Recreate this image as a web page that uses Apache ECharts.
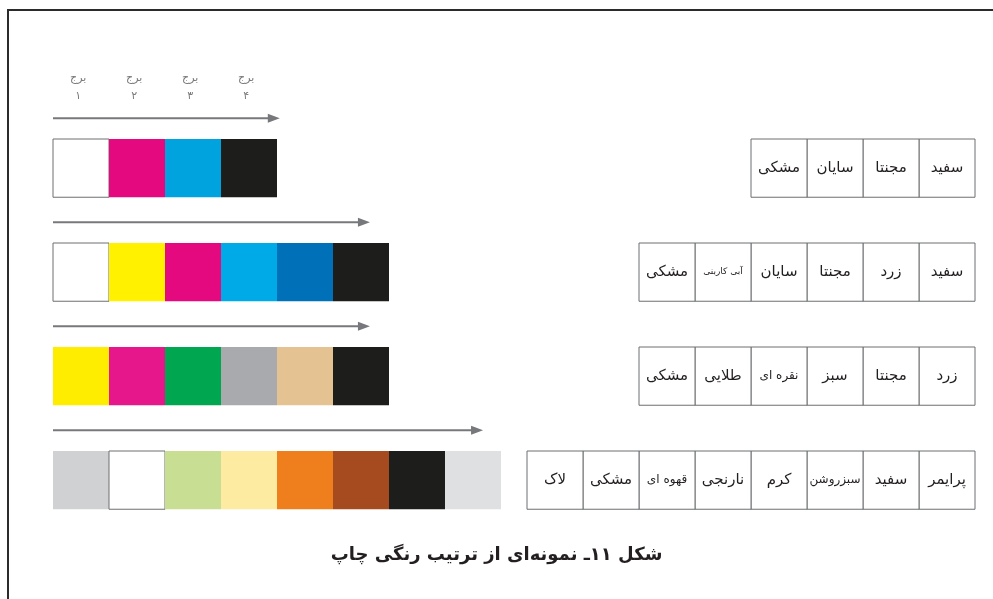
<!DOCTYPE html>
<html>
<head>
<meta charset="utf-8">
<script src="https://cdn.jsdelivr.net/npm/echarts@6/dist/echarts.min.js"></script>
<style>
  html, body { margin: 0; padding: 0; background: #fff; }
  #chart { width: 993px; height: 599px; }
</style>
</head>
<body>
<div id="chart"></div>
<script>
// ترتیب رنگ‌ها در هر ردیف (از چپ به راست، به ترتیب چاپ)
const rowColors = [
  ['#ffffff', '#e4097f', '#00a3dd', '#1d1d1b'],
  ['#ffffff', '#fff100', '#e4097f', '#00aae6', '#0070b8', '#1d1d1b'],
  ['#ffed00', '#e5178a', '#00a650', '#a8aaad', '#e4c291', '#1d1d1b'],
  ['#d0d1d3', '#ffffff', '#c7de93', '#fdeba2', '#ef7f1d', '#a54b1f', '#1d1d1b', '#dfe0e2']
];
// نام رنگ‌ها در جدول‌ها (از راست به چپ)
const rowNames = [
  ['سفید', 'مجنتا', 'سایان', 'مشکی'],
  ['سفید', 'زرد', 'مجنتا', 'سایان', 'آبی کاربنی', 'مشکی'],
  ['زرد', 'مجنتا', 'سبز', 'نقره ای', 'طلایی', 'مشکی'],
  ['پرایمر', 'سفید', 'سبزروشن', 'کرم', 'نارنجی', 'قهوه ای', 'مشکی', 'لاک']
];
// طول فلش بالای هر ردیف (بر حسب تعداد خانه)
const arrowEnds = [4.05, 5.66, 5.66, 7.68];
const towerLabels = ['برج\n۱', 'برج\n۲', 'برج\n۳', 'برج\n۴'];
const caption = 'شکل ۱۱ـ نمونه‌ای از ترتیب رنگی چاپ';

const ROW_TOP = 0.75;   // فاصله بالای خانه‌ها از شروع ردیف
const ROW_H = 0.56;
const FONT = 'DejaVu Sans';

const swatchData = [];
rowColors.forEach((row, r) => row.forEach((c, i) => swatchData.push([i, r])));
const cellData = [];
rowNames.forEach((row, r) => row.forEach((n, i) => cellData.push([i, r])));
const arrowData = arrowEnds.map((e, r) => [e, r]);
const towerData = towerLabels.map((t, i) => [i + 0.45, 0.25]);

const myChart = echarts.init(document.getElementById('chart'));

const option = {
  backgroundColor: '#ffffff',
  animation: false,
  title: {
    text: caption,
    left: 'center',
    top: 541,
    textStyle: { fontFamily: FONT, fontSize: 18, fontWeight: 'bold', color: '#231f20' }
  },
  grid: [
    { left: 53, width: 448, top: 61, height: 468 },
    { left: 527, width: 448, top: 61, height: 468 }
  ],
  xAxis: [
    { type: 'value', gridIndex: 0, min: 0, max: 8, show: false },
    { type: 'value', gridIndex: 1, min: 0, max: 8, inverse: true, show: false }
  ],
  yAxis: [
    { type: 'value', gridIndex: 0, min: 0, max: 4.5, inverse: true, show: false },
    { type: 'value', gridIndex: 1, min: 0, max: 4.5, inverse: true, show: false }
  ],
  graphic: [
    { type: 'line', shape: { x1: 7, y1: 10, x2: 993, y2: 10 }, style: { stroke: '#2b2b2b', lineWidth: 2 } },
    { type: 'line', shape: { x1: 8, y1: 10, x2: 8, y2: 599 }, style: { stroke: '#2b2b2b', lineWidth: 2 } }
  ],
  series: [
    {
      // خانه‌های رنگی
      type: 'custom',
      xAxisIndex: 0, yAxisIndex: 0,
      data: swatchData,
      renderItem: function (params, api) {
        const i = api.value(0), r = api.value(1);
        const p0 = api.coord([i, r + ROW_TOP]);
        const p1 = api.coord([i + 1, r + ROW_TOP + ROW_H]);
        const color = rowColors[r][i];
        const isWhite = color === '#ffffff';
        return {
          type: 'rect',
          shape: { x: p0[0], y: p0[1], width: p1[0] - p0[0], height: p1[1] - p0[1] },
          style: { fill: color, stroke: isWhite ? '#6d6e71' : null, lineWidth: isWhite ? 1 : 0 }
        };
      }
    },
    {
      // فلش‌ها
      type: 'custom',
      xAxisIndex: 0, yAxisIndex: 0,
      data: arrowData,
      renderItem: function (params, api) {
        const e = api.value(0), r = api.value(1);
        const y = r + ROW_TOP - 0.2;
        const a = api.coord([0, y]);
        const b = api.coord([e, y]);
        return {
          type: 'group',
          children: [
            { type: 'line', shape: { x1: a[0], y1: a[1], x2: b[0] - 8, y2: b[1] }, style: { stroke: '#77787b', lineWidth: 2 } },
            { type: 'polygon', shape: { points: [[b[0], b[1]], [b[0] - 12, b[1] - 4.5], [b[0] - 12, b[1] + 4.5]] }, style: { fill: '#77787b' } }
          ]
        };
      }
    },
    {
      // برج‌ها
      type: 'custom',
      xAxisIndex: 0, yAxisIndex: 0,
      data: towerData,
      renderItem: function (params, api) {
        const p = api.coord([api.value(0), api.value(1)]);
        return {
          type: 'text',
          x: p[0], y: p[1],
          style: {
            text: towerLabels[params.dataIndex],
            align: 'center', verticalAlign: 'middle',
            fontFamily: FONT, fontSize: 11, lineHeight: 18, fill: '#7a7a7a'
          }
        };
      }
    },
    {
      // جدول نام رنگ‌ها
      type: 'custom',
      xAxisIndex: 1, yAxisIndex: 1,
      data: cellData,
      renderItem: function (params, api) {
        const i = api.value(0), r = api.value(1);
        const p0 = api.coord([i, r + ROW_TOP]);
        const p1 = api.coord([i + 1, r + ROW_TOP + ROW_H]);
        const x = Math.min(p0[0], p1[0]), w = Math.abs(p1[0] - p0[0]);
        const name = rowNames[r][i];
        return {
          type: 'group',
          children: [
            { type: 'rect', shape: { x: x, y: p0[1], width: w, height: p1[1] - p0[1] }, style: { fill: '#fff', stroke: '#6d6e71', lineWidth: 1 } },
            {
              type: 'text', x: x + w / 2, y: (p0[1] + p1[1]) / 2,
              style: {
                text: name, align: 'center', verticalAlign: 'middle',
                fontFamily: FONT, fontSize: name.length > 8 ? 9 : (name.length > 6 ? 12 : 15), fill: '#231f20'
              }
            }
          ]
        };
      }
    }
  ]
};

myChart.setOption(option);
</script>
</body>
</html>
